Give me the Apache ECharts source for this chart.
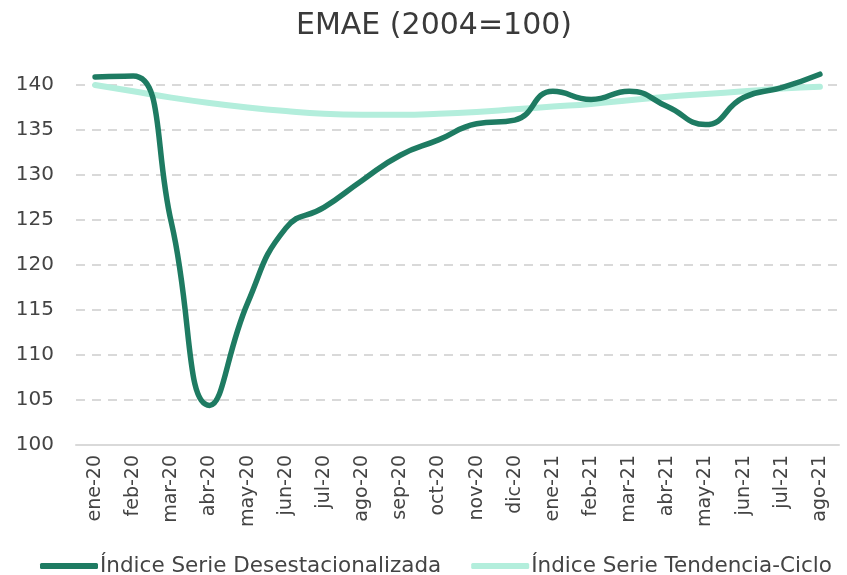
<!DOCTYPE html>
<html><head><meta charset="utf-8">
<script src="https://cdn.jsdelivr.net/npm/echarts@6/dist/echarts.min.js"></script>
<style>html,body{margin:0;padding:0;background:#fff}#c{width:847px;height:575px}</style>
</head><body><div id="c"></div>
<script>
const categories = ['ene-20','feb-20','mar-20','abr-20','may-20','jun-20','jul-20','ago-20','sep-20','oct-20','nov-20','dic-20','ene-21','feb-21','mar-21','abr-21','may-21','jun-21','jul-21','ago-21'];
const desestacionalizada = [140.9,141.0,124.7,104.4,115.8,124.1,126.4,129.4,132.2,133.9,135.7,136.1,139.3,138.4,139.3,137.6,135.6,138.6,139.7,141.2];
const tendenciaCiclo = [140.0,139.3,138.6,138.0,137.5,137.1,136.8,136.7,136.7,136.8,137.0,137.3,137.6,137.9,138.3,138.7,139.0,139.3,139.6,139.8];
const yTicks = {min:100, max:140, interval:5};
const FONT = 'DejaVu Sans';
const chart = echarts.init(document.getElementById('c'));
chart.setOption({
  animation:false,
  textStyle:{fontFamily:FONT},
  title:{text:'EMAE (2004=100)', left:291, top:6, textStyle:{fontFamily:FONT, fontSize:30, fontWeight:'normal', color:'#3a3a3a'}},
  grid:{left:76, right:8, top:85, bottom:130},
  legend:{top:550, left:35, itemWidth:58, itemHeight:6, itemGap:30, icon:'roundRect',
    textStyle:{fontFamily:FONT, fontSize:21.5, color:'#444', padding:[0,0,0,-3]}},
  xAxis:{type:'category', data:categories, boundaryGap:true,
    axisLine:{lineStyle:{color:'#d9d9d9', width:2}}, axisTick:{show:false},
    axisLabel:{rotate:90, fontSize:19, color:'#444', margin:10, interval:0}},
  yAxis:{type:'value', min:yTicks.min, max:yTicks.max, interval:yTicks.interval,
    axisLine:{show:false}, axisTick:{show:false},
    axisLabel:{fontSize:20, color:'#444', margin:22},
    splitLine:{lineStyle:{color:'#d9d9d9', width:2, type:[9,7]}}},
  series:[
    {name:'Índice Serie Desestacionalizada', type:'line', data:desestacionalizada, smooth:0.5, symbol:'none', clip:false,
      lineStyle:{color:'#1e7b62', width:5.5, cap:'round'}, itemStyle:{color:'#1e7b62'}, z:3},
    {name:'Índice Serie Tendencia-Ciclo', type:'line', data:tendenciaCiclo, smooth:0.5, symbol:'none', clip:false,
      lineStyle:{color:'#b3eedc', width:6, cap:'round'}, itemStyle:{color:'#b3eedc'}, z:2}
  ]
});
</script></body></html>
